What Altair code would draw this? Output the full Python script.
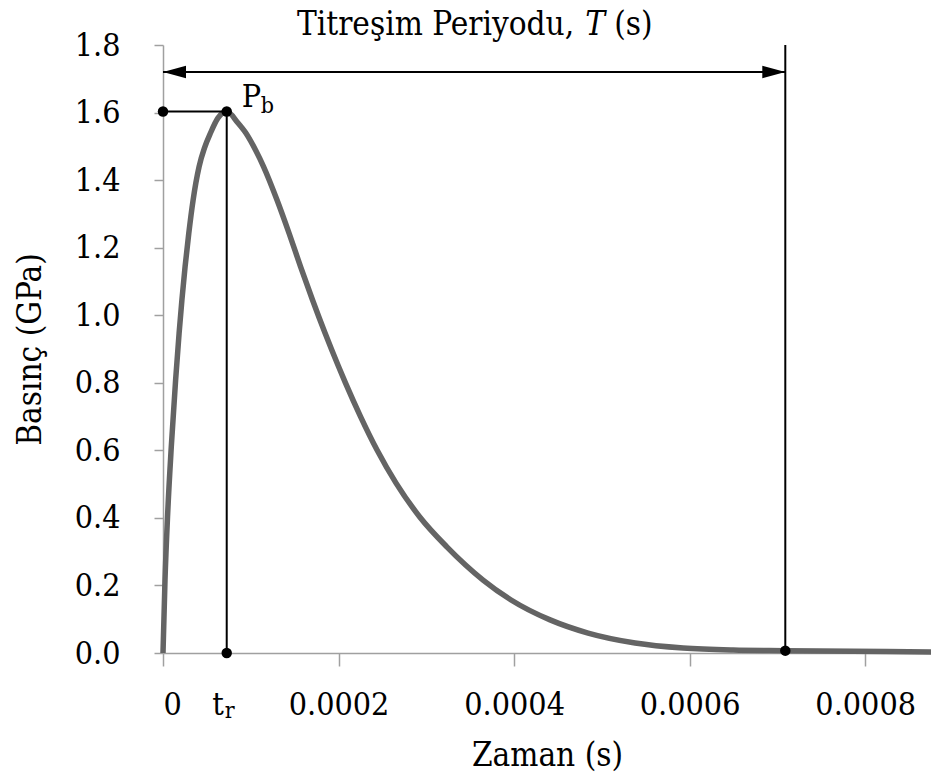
import altair as alt
import pandas as pd

# Curve values (time in s, pressure in GPa)
time_s = [0, 2.28e-6, 5.36e-6, 9.46e-6, 1.436e-5, 1.835e-5, 2.154e-5, 2.518e-5,
          2.940e-5, 3.430e-5, 4.114e-5, 4.75e-5, 5.413e-5, 6.27e-5, 7.26e-5,
          8.547e-5, 9.459e-5, 1.0541e-4, 1.1453e-4, 1.2991e-4, 1.4359e-4,
          1.5670e-4, 1.7037e-4, 1.8462e-4, 2.0000e-4, 2.0798e-4, 2.2507e-4,
          2.4387e-4, 2.6553e-4, 2.9231e-4, 3.2308e-4, 3.6467e-4, 3.9658e-4,
          4.4103e-4, 4.8433e-4, 5.3789e-4, 5.9259e-4, 6.4957e-4, 7.09e-4, 8.752e-4]
pressure_gpa = [0, 0.216, 0.4145, 0.611, 0.808, 0.947, 1.045, 1.144,
                1.243, 1.341, 1.440, 1.497, 1.5395, 1.584, 1.603,
                1.569, 1.5386, 1.489, 1.440, 1.341, 1.243,
                1.144, 1.045, 0.947, 0.848, 0.799, 0.700,
                0.601, 0.503, 0.4035, 0.315, 0.216, 0.157,
                0.098, 0.059, 0.0296, 0.0148, 0.0089, 0.007, 0.003]

t_r = 7.26e-5      # rise time
P_b = 1.603        # peak pressure
T_period = 7.09e-4 # vibration period
P_T = 0.007
arrow_y = 1.72

x_ticks = [0, 0.0002, 0.0004, 0.0006, 0.0008]
y_ticks = [0.0, 0.2, 0.4, 0.6, 0.8, 1.0, 1.2, 1.4, 1.6, 1.8]
x_domain = [0, 0.000875]
y_domain = [0, 1.8]

FONT = "DejaVu Serif Condensed"

curve_df = pd.DataFrame({"t": time_s, "p": pressure_gpa})
seg_df = pd.DataFrame({
    "t1": [0, t_r, T_period, 0],
    "p1": [P_b, 0, P_T, arrow_y],
    "t2": [t_r, t_r, T_period, T_period],
    "p2": [P_b, P_b, 1.8, arrow_y],
})
dot_df = pd.DataFrame({"t": [0, t_r, t_r, T_period], "p": [P_b, P_b, 0, P_T]})

xs = alt.Scale(domain=x_domain, nice=False, zero=False)
ys = alt.Scale(domain=y_domain, nice=False)

x_axis = alt.Axis(values=x_ticks, labelExpr="datum.value == 0 ? '0' : format(datum.value, '.4f')",
                  title="Zaman (s)", grid=False, tickSize=13, labelPadding=23,
                  labelFont=FONT, labelFontSize=32, labelColor="black",
                  titleFont=FONT, titleFontSize=33, titleFontWeight="normal", titleColor="black",
                  titleY=112, titleBaseline="alphabetic",
                  domainColor="#a0a0a0", tickColor="#a0a0a0", domainWidth=1.5, tickWidth=1.5)
y_axis = alt.Axis(values=y_ticks, format=".1f", title="Basınç (GPa)", grid=False,
                  tickSize=9, labelPadding=34,
                  labelFont=FONT, labelFontSize=32, labelColor="black",
                  titleFont=FONT, titleFontSize=33, titleFontWeight="normal", titleColor="black",
                  titleX=-123, titleY=304, titleAngle=-90, titleBaseline="alphabetic", titleAlign="center",
                  domainColor="#a0a0a0", tickColor="#a0a0a0", domainWidth=1.5, tickWidth=1.5)

curve = alt.Chart(curve_df).mark_line(color="#646464", strokeWidth=5.5, interpolate="monotone").encode(
    x=alt.X("t:Q", scale=xs, axis=x_axis),
    y=alt.Y("p:Q", scale=ys, axis=y_axis),
)

segs = alt.Chart(seg_df).mark_rule(color="black", strokeWidth=2).encode(
    x=alt.X("t1:Q", scale=xs), y=alt.Y("p1:Q", scale=ys),
    x2="t2:Q", y2="p2:Q",
)

dots = alt.Chart(dot_df).mark_point(filled=True, color="black", size=110, opacity=1, shape="circle").encode(
    x=alt.X("t:Q", scale=xs), y=alt.Y("p:Q", scale=ys),
)

left_head = alt.Chart(pd.DataFrame({"t": [0], "p": [arrow_y]})).mark_point(
    filled=True, color="black", opacity=1, size=529, shape="M0,0 L2,-0.55 L2,0.55 Z"
).encode(x=alt.X("t:Q", scale=xs), y=alt.Y("p:Q", scale=ys))
right_head = alt.Chart(pd.DataFrame({"t": [T_period], "p": [arrow_y]})).mark_point(
    filled=True, color="black", opacity=1, size=529, shape="M0,0 L-2,-0.55 L-2,0.55 Z"
).encode(x=alt.X("t:Q", scale=xs), y=alt.Y("p:Q", scale=ys))


def label(text, t, p, dx, dy, size=32, align="left", style="normal"):
    return alt.Chart(pd.DataFrame({"t": [t], "p": [p], "txt": [text]})).mark_text(
        font=FONT, fontSize=size, align=align, baseline="alphabetic", dx=dx, dy=dy,
        color="black", fontStyle=style
    ).encode(x=alt.X("t:Q", scale=xs), y=alt.Y("p:Q", scale=ys), text="txt:N")


texts = [
    label("P", t_r, P_b, 15, -5),
    label("b", t_r, P_b, 34, 1, size=23),
    label("t", t_r, 0, -3, 62, align="right"),
    label("r", t_r, 0, -2, 65, size=23),
    label("Titreşim Periyodu,", T_period / 2, 1.8, 100, -10, size=33, align="right"),
    label("T", T_period / 2, 1.8, 111, -10, size=33, style="italic"),
    label("(s)", T_period / 2, 1.8, 140, -10, size=33),
]

chart = alt.layer(curve, segs, dots, left_head, right_head, *texts).properties(
    width=768, height=608,
    padding={"left": 163, "top": 45, "right": 0, "bottom": 128},
    autosize=alt.AutoSizeParams(type="none"),
    background="white",
).configure_view(stroke=None)

chart.save("out.html", embed_options={"renderer": "svg", "actions": False})
